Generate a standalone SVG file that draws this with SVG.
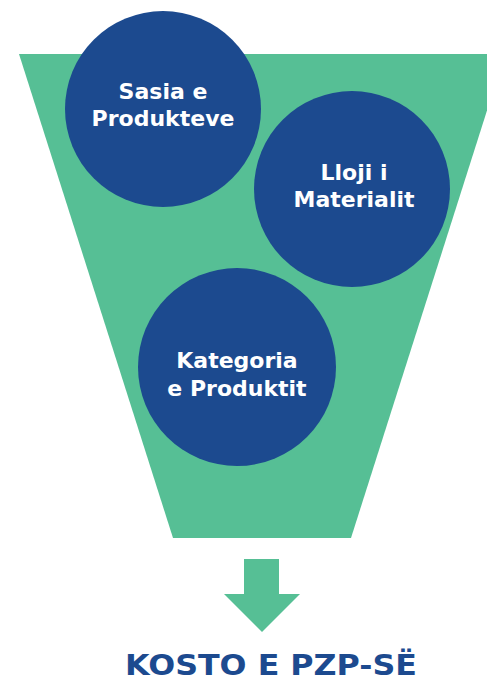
<svg xmlns="http://www.w3.org/2000/svg" width="487" height="682" viewBox="0 0 487 682">
<style>
.funnel{fill:#56bf95}
.node circle{fill:#1c4a8f}
.node text{fill:#ffffff;font-family:"DejaVu Sans","Liberation Sans",sans-serif;font-weight:bold;font-size:22px;text-anchor:middle}
.title{fill:#1c4a8f;font-family:"DejaVu Sans","Liberation Sans",sans-serif;font-weight:bold;font-size:29px;text-anchor:middle}
</style>
<rect width="487" height="682" fill="#ffffff"/>
<polygon class="funnel" points="19,54 505,54 351,538 173,538"/>
<g id="node-sasia" class="node">
<circle cx="163" cy="109" r="98"/>
<text x="163" y="99">Sasia e</text>
<text x="163" y="126">Produkteve</text>
</g>
<g id="node-lloji" class="node">
<circle cx="352" cy="189" r="98"/>
<text x="354" y="180">Lloji i</text>
<text x="354" y="207">Materialit</text>
</g>
<g id="node-kategoria" class="node">
<circle cx="237" cy="367" r="99"/>
<text x="237" y="368">Kategoria</text>
<text x="237" y="396">e Produktit</text>
</g>
<g id="connectors">
<polygon class="funnel" points="244,559 279,559 279,594 300,594 262,632 224,594 244,594"/>
</g>
<g id="node-kosto">
<text class="title" x="271" y="675" textLength="292" lengthAdjust="spacingAndGlyphs">KOSTO E PZP-SË</text>
</g>
</svg>
